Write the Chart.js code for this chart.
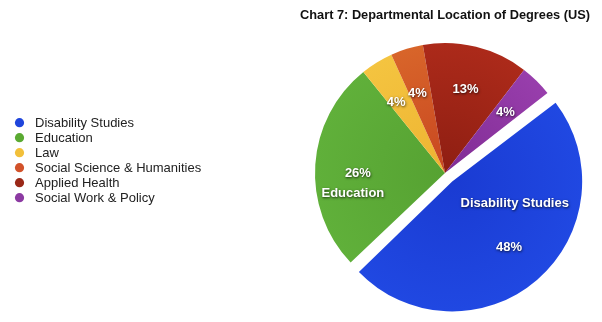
<!DOCTYPE html>
<html>
<head>
<meta charset="utf-8">
<script src="https://cdn.jsdelivr.net/npm/chart.js@4/dist/chart.umd.min.js"></script>
<style>
    html, body { margin: 0; padding: 0; background: #fff; }
    #plot { display: block; }
</style>
</head>
<body>
<canvas id="plot" width="602" height="322"></canvas>
<script>
// degrees by department (percent of programs)
const categories = ["Disability Studies", "Education", "Law", "Social Science & Humanities", "Applied Health", "Social Work & Policy"];
const shares = [48, 26, 4, 4, 13, 4];

// slice fills: rim colour and darker hub colour
const rimColors = ["#2048e2", "#60b03a", "#f4c440", "#d8652a", "#ac2a1a", "#983eac"];
const hubColors = ["#1a3bd2", "#56a232", "#eeb432", "#c84620", "#8e1e12", "#802c94"];
const legendColors = ["#1f45dc", "#5aaa32", "#f2c03a", "#d2522a", "#9a2818", "#8c3aa2"];

const FONT = "'Liberation Sans', Arial, Helvetica, sans-serif";

// chart.js moves an exploded arc by offset/4
const EXPLODE = 44;
const PIE_R = 130;

// where the in-slice labels sit: [radius fraction, angle shift in degrees]
const labelSpots = [
    {pct: [0.67, 0], name: [0.51, -30]},
    {pct: [0.67, -4], name: [0.725, -16]},
    {pct: [0.66, -3]},
    {pct: [0.65, -2]},
    {pct: [0.66, 0]},
    {pct: [0.66, 0]}
];
const nameText = ["Disability Studies", "Education", null, null, null, null];

let sliceFill = (c)=>{
    const area = c.chart.chartArea;
    const i = c.dataIndex;
    if (!area) return rimColors[i];
    const cx = (area.left + area.right) / 2;
    const cy = (area.top + area.bottom) / 2;
    const g = c.chart.ctx.createRadialGradient(cx, cy, 0, cx, cy, PIE_R);
    g.addColorStop(0, hubColors[i]);
    g.addColorStop(1, rimColors[i]);
    return g;
};

// an offset arc gets drawn with a bigger radius, take that back out
const keepRadius = {
    id: 'keepRadius',
    afterDatasetsUpdate: (chart)=>{
        chart.getDatasetMeta(0).data.forEach((arc)=>{
            const off = (arc.options.offset || 0) / 4;
            if (!off) return;
            const fix = 1 - Math.sin(Math.min(Math.PI, arc.circumference));
            arc.outerRadius = PIE_R - off * fix;
        });
    }
};

// legend on the left, drawn by hand so it can sit anywhere
const sideLegend = {
    id: 'sideLegend',
    afterDraw: (chart)=>{
        const {ctx} = chart;
        ctx.save();
        ctx.font = "13px " + FONT;
        ctx.textBaseline = "middle";
        ctx.textAlign = "left";
        for (let i = 0; i < categories.length; i++){
            let y = 122.7 + i * 15;
            ctx.fillStyle = legendColors[i];
            ctx.beginPath();
            ctx.arc(19.5, y, 4.6, 0, Math.PI * 2);
            ctx.fill();
            ctx.fillStyle = "#222";
            ctx.fillText(categories[i], 35, y + 0.5);
        }
        ctx.restore();
    }
};

// percent + name labels inside the slices
const sliceLabels = {
    id: 'sliceLabels',
    afterDatasetsDraw: (chart)=>{
        const {ctx} = chart;
        const arcs = chart.getDatasetMeta(0).data;
        ctx.save();
        ctx.font = "bold 13px " + FONT;
        ctx.fillStyle = "#fff";
        ctx.textAlign = "center";
        ctx.textBaseline = "middle";
        ctx.shadowColor = "rgba(0,0,0,0.75)";
        ctx.shadowBlur = 2.5;
        ctx.shadowOffsetX = 0.5;
        ctx.shadowOffsetY = 1;

        arcs.forEach((arc, i)=>{
            const p = arc.getProps(['x', 'y', 'startAngle', 'endAngle'], true);
            const mid = (p.startAngle + p.endAngle) / 2;
            const off = (arc.options.offset || 0) / 4;
            const cx = p.x + Math.cos(mid) * off;
            const cy = p.y + Math.sin(mid) * off;

            let place = (spot)=>{
                const a = mid + spot[1] * Math.PI / 180;
                const r = PIE_R * spot[0];
                return [cx + Math.cos(a) * r, cy + Math.sin(a) * r];
            };

            const s = labelSpots[i];
            let pp = place(s.pct);
            ctx.fillText(shares[i] + "%", pp[0], pp[1]);
            if (s.name && nameText[i]){
                let np = place(s.name);
                ctx.fillText(nameText[i], np[0], np[1]);
            }
        });
        ctx.restore();
    }
};

let config = {
    type: 'pie',
    data: {
        labels: categories,
        datasets: [{
            data: shares,
            backgroundColor: sliceFill,
            borderWidth: 0,
            radius: PIE_R,
            offset: [EXPLODE, 0, 0, 0, 0, 0]
        }]
    },
    options: {
        responsive: false,
        animation: false,
        rotation: 52,
        layout: {
            padding: { left: 300, right: 12, top: 0, bottom: 13.4 }
        },
        plugins: {
            legend: { display: false },
            tooltip: { enabled: false },
            title: {
                display: true,
                fullSize: false,
                text: "Chart 7: Departmental Location of Degrees (US)",
                color: "#111",
                font: { family: FONT, size: 13, weight: 'bold' },
                padding: { top: 8, bottom: 14 }
            }
        }
    },
    plugins: [keepRadius, sideLegend, sliceLabels]
};

new Chart(document.getElementById("plot"), config);
</script>
</body>
</html>
